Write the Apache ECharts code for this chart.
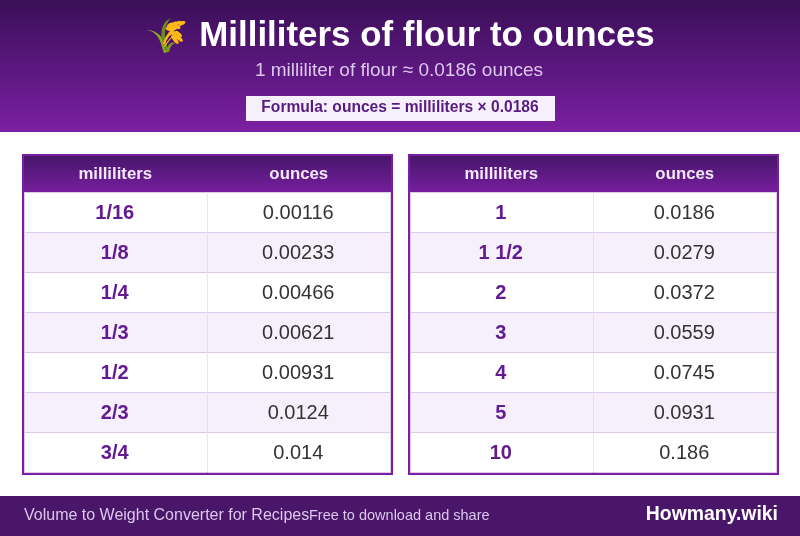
<!DOCTYPE html>
<html>
<head>
<meta charset="utf-8">
<style>html,body{margin:0;padding:0;background:#fff}#main{width:800px;height:536px}</style>
<script src="https://cdn.jsdelivr.net/npm/echarts@6/dist/echarts.min.js"></script>
</head>
<body>
<div id="main"></div>
<script>
var headers = ['milliliters', 'ounces'];
var mlLeft = ['1/16', '1/8', '1/4', '1/3', '1/2', '2/3', '3/4'];
var ozLeft = ['0.00116', '0.00233', '0.00466', '0.00621', '0.00931', '0.0124', '0.014'];
var mlRight = ['1', '1 1/2', '2', '3', '4', '5', '10'];
var ozRight = ['0.0186', '0.0279', '0.0372', '0.0559', '0.0745', '0.0931', '0.186'];

var titleText = 'Milliliters of flour to ounces';
var subtitleText = '1 milliliter of flour ≈ 0.0186 ounces';
var formulaText = 'Formula: ounces = milliliters × 0.0186';
var footerLeft = 'Volume to Weight Converter for Recipes';
var footerMiddle = 'Free to download and share';
var footerRight = 'Howmany.wiki';

var font = '"Liberation Sans", Arial, sans-serif';
var hairline = '#dcc9ec';

function grad(a, b) {
	return new echarts.graphic.LinearGradient(0, 0, 0, 1, [{offset: 0, color: a}, {offset: 1, color: b}]);
}

function cells(ml, oz) {
	var out = [];
	for (var i = 0; i < ml.length; i++) {
		out.push([0, i, ml[i]]);
		out.push([1, i, oz[i]]);
	}
	return out;
}

// one table cell: background, hairlines, text. Text comes from the raw row
// because "1 1/2" does not survive api.value
function cellRenderer(rows) {
	return function(params, api) {
		var col = api.value(0), row = api.value(1);
		var c = api.coord([col, row]);
		var s = api.size([1, 1]);
		var x = c[0] - s[0] / 2, y = c[1] - s[1] / 2;
		var right = Math.round(x + s[0]);
		var kids = [
			{type: 'rect', shape: {x: x, y: y, width: s[0], height: s[1]},
				style: {fill: row % 2 ? '#f5f0fb' : '#ffffff'}},
			{type: 'rect', shape: {x: x, y: y, width: s[0], height: 1}, style: {fill: hairline}},
			{type: 'rect', shape: {x: right - 1, y: y, width: 1, height: s[1]}, style: {fill: hairline}}
		];
		if (col == 0) {
			kids.push({type: 'rect', shape: {x: x, y: y, width: 1, height: s[1]}, style: {fill: hairline}});
		}
		if (row == 6) {
			kids.push({type: 'rect', shape: {x: x, y: y + s[1], width: s[0], height: 1}, style: {fill: hairline}});
		}
		kids.push({type: 'text', x: c[0] - 1, y: c[1] + 1, style: {
			text: rows[params.dataIndex][2], align: 'center', verticalAlign: 'middle',
			font: (col == 0 ? 'bold ' : '') + '20px ' + font,
			fill: col == 0 ? '#631b90' : '#333333'
		}});
		return {type: 'group', children: kids};
	};
}

function tableFrame(left) {
	return [
		{type: 'rect', z: -2, shape: {x: left, y: 154, width: 371, height: 321}, style: {fill: '#7b1fa2'}},
		{type: 'rect', z: -1, shape: {x: left + 2, y: 156, width: 367, height: 36}, style: {fill: grad('#47166b', '#761e9e')}}
	];
}

// wheat icon (stands in for the emoji, no emoji font here)
function grain(x, y, rot) {
	return {type: 'ellipse', x: x, y: y, rotation: rot, shape: {cx: 0, cy: 0, rx: 3.6, ry: 1.8}, style: {fill: '#fbb917'}};
}
function blade(d, fill) {
	return {type: 'path', shape: {pathData: d}, style: {fill: fill}};
}
function renderWheat() {
	return {
		type: 'group',
		children: [
			blade('M147 30 C155 31 160 38 162 47 L164 53 L168 52 C166 40 158 30 147 30 Z', '#8fae22'),
			blade('M171 18 C163 21 160 30 162 40 L165 51 L168 50 C163 36 164 25 171 18 Z', '#6f8a1f'),
			blade('M166 52 C167 45 171 41 175 43 C172 44 170 47 169 52 Z', '#7d981f'),
			blade('M163 44 C165 35 171 28 183 23 L184 24 C174 29 168 36 165 44 Z', '#fbb917'),
			blade('M164 46 C168 40 172 36 175 34 C178 36 181 39 182 41 C178 38 175 37 174 36 C171 38 168 42 165 47 Z', '#fbb917'),
			grain(170, 25, 0.6), grain(174, 24, 0.6), grain(178, 23, 0.5), grain(182, 23, 0.3),
			grain(169, 29, -0.3), grain(173, 28, -0.3), grain(177, 27, -0.3),
			grain(171, 33, 0.6), grain(175, 33, 0.5),
			grain(174, 38, -0.7), grain(177, 37, -0.7), grain(180, 39, -0.8), grain(179, 34.5, -0.7), grain(176, 41, -0.8)
		]
	};
}

function label(text, x, y, size, color, align, bold) {
	return {type: 'text', x: x, y: y, style: {
		text: text, align: align, verticalAlign: 'middle',
		font: (bold ? 'bold ' : '') + size + 'px ' + font, fill: color
	}};
}

var graphics = [
	{type: 'rect', z: -1, shape: {x: 0, y: 0, width: 800, height: 132}, style: {fill: grad('#3a0f58', '#7b1fa2')}},
	{type: 'rect', shape: {x: 246, y: 96, width: 309, height: 25}, style: {fill: '#f5f0fb'}},
	{type: 'rect', z: -1, shape: {x: 0, y: 496, width: 800, height: 40}, style: {fill: '#4a1669'}},
	label(titleText, 427, 36, 34.9, '#ffffff', 'center', true),
	label(subtitleText, 399, 71, 19, '#dcc8ec', 'center', false),
	label(formulaText, 400, 108, 15.6, '#571a80', 'center', true),
	label(footerLeft, 24, 516, 16, '#dcc8ec', 'left', false),
	label(footerMiddle, 309, 516, 14.5, '#dcc8ec', 'left', false),
	label(footerRight, 778, 515, 19.4, '#ffffff', 'right', true)
].concat(tableFrame(22), tableFrame(408));

function xAxisFor(i) {
	return {
		type: 'category', gridIndex: i, position: 'top', data: headers,
		axisLine: {show: false}, axisTick: {show: false}, splitLine: {show: false},
		axisLabel: {color: '#f3e9fa', fontFamily: font, fontWeight: 'bold', fontSize: 16.8, margin: 9, padding: [0, 1, 0, 0]}
	};
}
function yAxisFor(i, rows) {
	return {type: 'category', gridIndex: i, inverse: true, data: rows, show: false};
}
function seriesFor(i, ml, oz) {
	var rows = cells(ml, oz);
	return {type: 'custom', xAxisIndex: i, yAxisIndex: i, data: rows, renderItem: cellRenderer(rows), clip: false, animation: false, silent: true};
}

var chart = echarts.init(document.getElementById('main'), null, {renderer: 'canvas'});
chart.setOption({
	animation: false,
	backgroundColor: '#ffffff',
	tooltip: {show: false},
	graphic: {elements: graphics},
	grid: [
		{left: 24, top: 192, width: 367, height: 280},
		{left: 410, top: 192, width: 367, height: 280}
	],
	xAxis: [xAxisFor(0), xAxisFor(1)],
	yAxis: [yAxisFor(0, mlLeft), yAxisFor(1, mlRight)],
	series: [
		seriesFor(0, mlLeft, ozLeft),
		seriesFor(1, mlRight, ozRight),
		{type: 'custom', coordinateSystem: 'none', data: [0], renderItem: renderWheat, animation: false, silent: true, z: 5}
	]
});
</script>
</body>
</html>
